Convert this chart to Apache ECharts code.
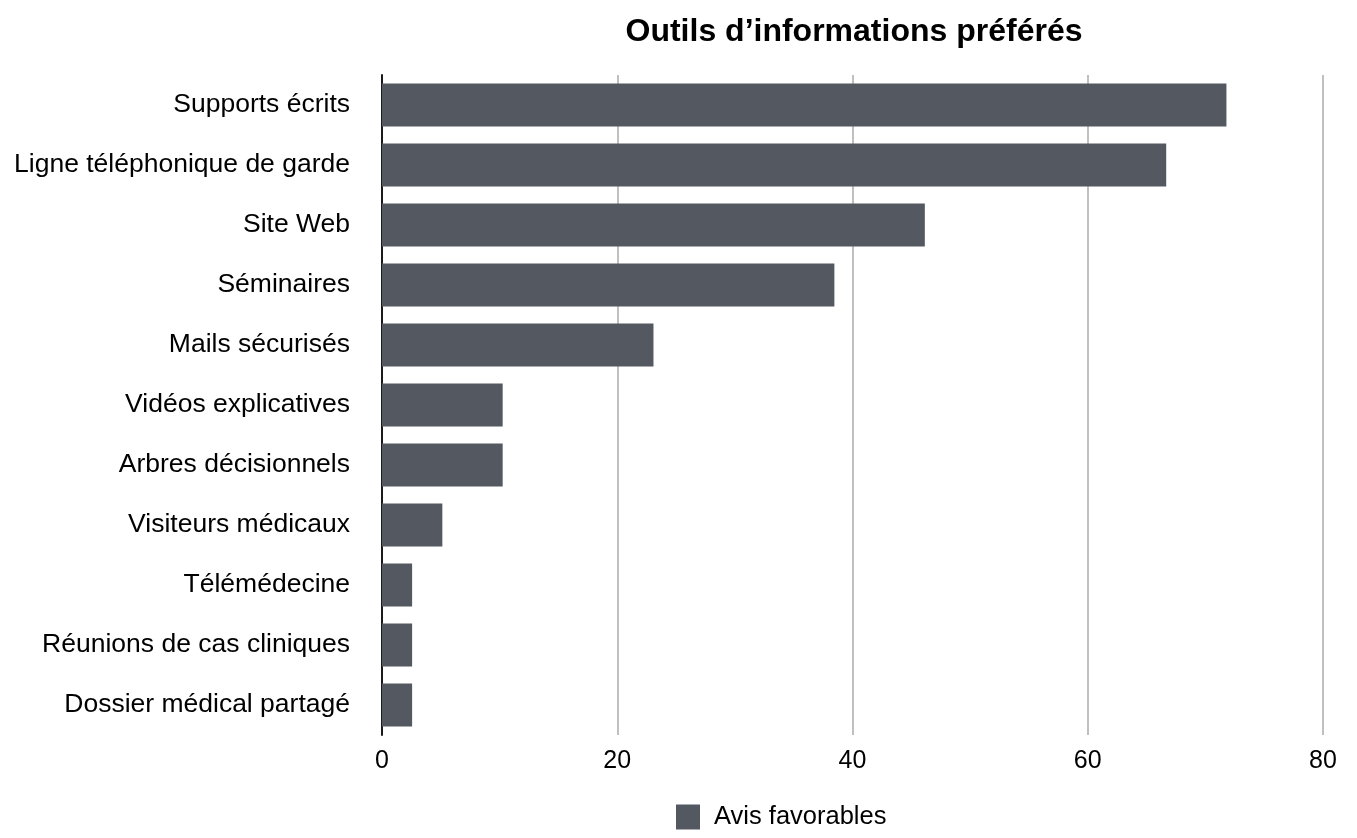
<!DOCTYPE html>
<html>
<head>
<meta charset="utf-8">
<script src="https://cdn.jsdelivr.net/npm/echarts@6/dist/echarts.min.js"></script>
<style>html,body{margin:0;padding:0;background:#fff}#c{width:1357px;height:838px}</style>
</head>
<body>
<div id="c"></div>
<script>
const categories = ["Supports écrits","Ligne téléphonique de garde","Site Web","Séminaires","Mails sécurisés","Vidéos explicatives","Arbres décisionnels","Visiteurs médicaux","Télémédecine","Réunions de cas cliniques","Dossier médical partagé"];
const values = [71.79, 66.67, 46.15, 38.46, 23.08, 10.26, 10.26, 5.13, 2.56, 2.56, 2.56];
const seriesName = "Avis favorables";
const xTicks = [0, 20, 40, 60, 80];

const font = "'Liberation Sans', Arial, sans-serif";
const chart = echarts.init(document.getElementById('c'));
chart.setOption({
  animation: false,
  title: {
    text: "Outils d’informations préférés",
    left: 849, top: 11, textAlign: 'center',
    textStyle: {fontFamily: font, fontSize: 32, fontWeight: 'bold', color: '#000'}
  },
  legend: {
    data: [seriesName],
    bottom: 3, left: 671,
    itemWidth: 24, itemHeight: 25, itemGap: 10,
    icon: 'rect',
    textStyle: {fontFamily: font, fontSize: 25.5, color: '#000', padding: [0,0,0,9]}
  },
  grid: {left: 382, right: 34, top: 75, bottom: 103, containLabel: false},
  xAxis: {
    type: 'value', min: xTicks[0], max: xTicks[xTicks.length-1], interval: 20,
    axisLine: {show: false}, axisTick: {show: false},
    axisLabel: {fontFamily: font, fontSize: 25, color: '#000', margin: 14},
    splitLine: {show: true, lineStyle: {color: '#c0c0c0', width: 2}}
  },
  yAxis: {
    type: 'category', data: categories, inverse: true,
    axisLine: {show: true, lineStyle: {color: '#1a1a1a', width: 2}},
    axisTick: {show: false},
    axisLabel: {fontFamily: font, fontSize: 26.5, color: '#000', margin: 32}
  },
  series: [{
    name: seriesName, type: 'bar', data: values,
    barCategoryGap: '28%',
    itemStyle: {color: '#545961'}
  }]
});
</script>
</body>
</html>
